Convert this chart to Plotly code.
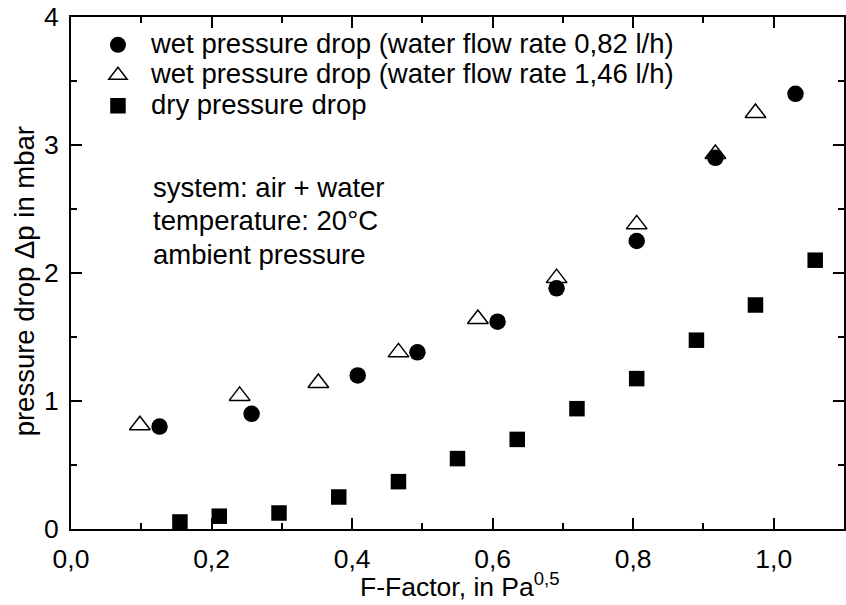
import plotly.graph_objects as go

# ---- data ----
x_wet_082 = [0.126, 0.257, 0.408, 0.493, 0.607, 0.691, 0.805, 0.917, 1.031]
y_wet_082 = [0.80, 0.90, 1.20, 1.38, 1.62, 1.88, 2.25, 2.90, 3.40]

x_wet_146 = [0.098, 0.240, 0.352, 0.466, 0.579, 0.691, 0.805, 0.917, 0.974]
y_wet_146 = [0.81, 1.04, 1.14, 1.38, 1.64, 1.96, 2.38, 2.93, 3.25]

x_dry = [0.155, 0.211, 0.296, 0.381, 0.466, 0.550, 0.635, 0.720, 0.805, 0.890, 0.974, 1.059]
y_dry = [0.055, 0.10, 0.125, 0.25, 0.37, 0.55, 0.70, 0.94, 1.175, 1.475, 1.75, 2.10]

names = [
    "wet pressure drop (water flow rate 0,82 l/h)",
    "wet pressure drop (water flow rate 1,46 l/h)",
    "dry pressure drop",
]
info_lines = ["system: air + water", "temperature: 20°C", "ambient pressure"]

FONT = "Liberation Sans, Arial, sans-serif"
FS = 27.5        # labels / legend / notes
FS_TICK = 26.5   # tick labels
LEG_ROW = 21.1   # legend font size used for row spacing

def big(s):
    return '<span style="font-size:%gpx">%s</span>' % (FS, s)

fig = go.Figure()
fig.add_trace(go.Scatter(
    x=x_wet_082, y=y_wet_082, mode="markers", name=big(names[0]),
    marker=dict(symbol="circle", size=16.5, color="black", line=dict(width=0)),
))
fig.add_trace(go.Scatter(
    x=x_wet_146, y=y_wet_146, mode="markers", name=big(names[1]),
    marker=dict(symbol="triangle-up-open", size=18, color="black",
                line=dict(width=1.5, color="black")),
))
fig.add_trace(go.Scatter(
    x=x_dry, y=y_dry, mode="markers", name=big(names[2]),
    marker=dict(symbol="square", size=15.5, color="black", line=dict(width=0)),
))

axis_common = dict(
    showline=True, linecolor="black", linewidth=2, mirror="ticks",
    ticks="inside", ticklen=11, tickwidth=2, tickcolor="black",
    showgrid=False, zeroline=False,
    tickfont=dict(family=FONT, size=FS_TICK, color="black"),
)

fig.update_xaxes(
    range=[0, 1.1], dtick=0.2, tick0=0, tickformat=".1f",
    minor=dict(ticks="inside", ticklen=6, tickwidth=2, dtick=0.1, tickcolor="black"),
    ticklabelstandoff=5,
    **axis_common,
)
fig.update_yaxes(
    range=[0, 4], dtick=1, tick0=0,
    minor=dict(ticks="inside", ticklen=6, tickwidth=2, dtick=0.5, tickcolor="black"),
    ticklabelstandoff=5,
    **axis_common,
)

annotations = []
# axis titles
annotations.append(dict(
    text="F-Factor, in Pa<sup>0,5</sup>", xref="paper", yref="paper",
    x=0.503, y=-0.109, xanchor="center", yanchor="middle", showarrow=False,
    font=dict(family=FONT, size=26.5, color="black"),
))
annotations.append(dict(
    text="pressure drop Δp in mbar", xref="paper", yref="paper",
    x=-0.0606, y=0.484, xanchor="center", yanchor="middle", textangle=-90,
    showarrow=False, font=dict(family=FONT, size=FS, color="black"),
))
for i, line in enumerate(info_lines):
    annotations.append(dict(
        text=line, xref="paper", yref="paper",
        x=(151 - 71) / 775, y=(529 - (187 + 33.5 * i)) / 512,
        xanchor="left", yanchor="middle", showarrow=False,
        font=dict(family=FONT, size=FS, color="black"),
    ))

fig.update_layout(
    width=846, height=605,
    margin=dict(l=71, r=0, t=17, b=76, pad=0),
    paper_bgcolor="white", plot_bgcolor="white",
    separators=",.",
    font=dict(family=FONT, size=FS, color="black"),
    showlegend=True,
    legend=dict(
        x=(85 - 71) / 775, y=1 - (24.6 - 17) / 512, xanchor="left", yanchor="top",
        bgcolor="rgba(0,0,0,0)", borderwidth=0, itemwidth=56,
        font=dict(family=FONT, size=LEG_ROW, color="black"),
        tracegroupgap=0,
    ),
    annotations=annotations,
)

fig.write_html("out.html")
